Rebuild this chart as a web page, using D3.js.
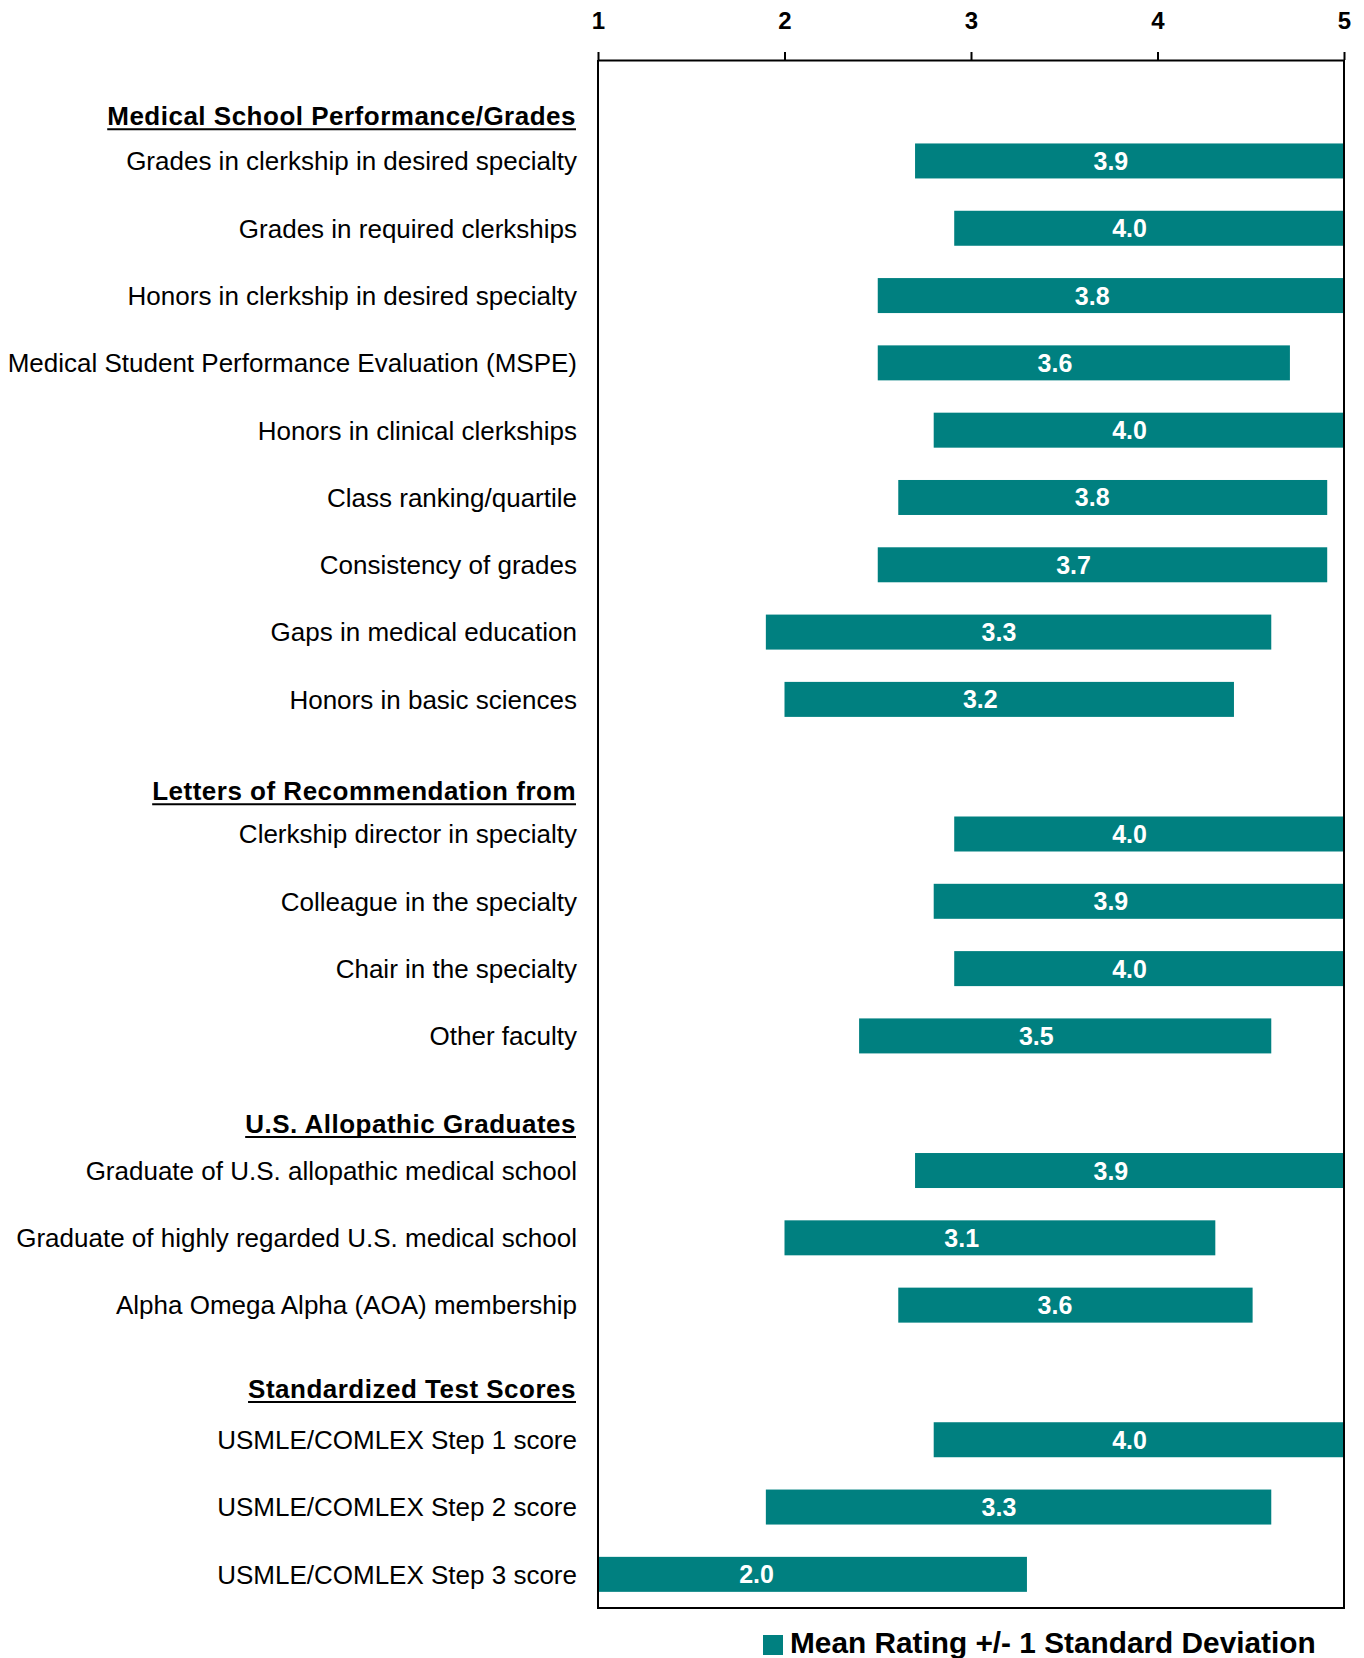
<!DOCTYPE html>
<html>
<head>
<meta charset="utf-8">
<script src="https://cdn.jsdelivr.net/npm/d3@7"></script>
<style>
  body { margin: 0; background: #fff; }
  text { font-family: "Liberation Sans", Arial, sans-serif; }
</style>
</head>
<body>
<script>
const width = 1364;
const height = 1658;

// section headers and the items under each one
const groups = [
    "Medical School Performance/Grades",
    "Letters of Recommendation from",
    "U.S. Allopathic Graduates",
    "Standardized Test Scores"
];
const items = [
    ["Grades in clerkship in desired specialty", "Grades in required clerkships", "Honors in clerkship in desired specialty",
     "Medical Student Performance Evaluation (MSPE)", "Honors in clinical clerkships", "Class ranking/quartile",
     "Consistency of grades", "Gaps in medical education", "Honors in basic sciences"],
    ["Clerkship director in specialty", "Colleague in the specialty", "Chair in the specialty", "Other faculty"],
    ["Graduate of U.S. allopathic medical school", "Graduate of highly regarded U.S. medical school", "Alpha Omega Alpha (AOA) membership"],
    ["USMLE/COMLEX Step 1 score", "USMLE/COMLEX Step 2 score", "USMLE/COMLEX Step 3 score"]
];
// mean rating (label) and the mean -/+ 1 SD ends, in item order
const means = [3.9, 4.0, 3.8, 3.6, 4.0, 3.8, 3.7, 3.3, 3.2,  4.0, 3.9, 4.0, 3.5,  3.9, 3.1, 3.6,  4.0, 3.3, 2.0];
const lows  = [2.70, 2.91, 2.50, 2.50, 2.80, 2.61, 2.50, 1.90, 2.00,  2.91, 2.80, 2.91, 2.40,  2.70, 2.00, 2.61,  2.80, 1.90, 0.70];
const highs = [5.10, 5.10, 5.10, 4.71, 5.20, 4.91, 4.91, 4.61, 4.41,  5.10, 5.00, 5.10, 4.61,  5.10, 4.31, 4.51,  5.20, 4.61, 3.30];
const ticks = [1, 2, 3, 4, 5];

const teal = "#008080";

// one row per item, with an empty row in front of every section
let rows = [];
let data = [];
let k = 0;
groups.forEach((g, gi) => {
    rows.push("_gap" + gi);
    items[gi].forEach(name => {
        rows.push(name);
        data.push({ name: name, group: gi, mean: means[k], lo: lows[k], hi: highs[k] });
        k++;
    });
});

const plot = { left: 598, right: 1344, top: 60, bottom: 1608 };

const x = d3.scaleLinear().domain([1, 5]).range([plot.left, plot.right]);
const y = d3.scaleBand().domain(rows).range([plot.top, plot.bottom])
    .paddingInner(0.48).paddingOuter(0.24);

const svg = d3.select("body").append("svg")
    .attr("width", width)
    .attr("height", height);

// bars, clipped to the axis range
svg.append("g")
    .selectAll("rect")
    .data(data)
    .enter().append("rect")
    .attr("x", d => x(Math.max(d.lo, 1)))
    .attr("y", d => y(d.name))
    .attr("width", d => x(Math.min(d.hi, 5)) - x(Math.max(d.lo, 1)))
    .attr("height", y.bandwidth())
    .style("fill", teal);

// mean labels
svg.append("g")
    .selectAll("text")
    .data(data)
    .enter().append("text")
    .attr("x", d => x(d.mean - 0.15))
    .attr("y", d => y(d.name) + y.bandwidth() / 2)
    .attr("dy", "0.36em")
    .attr("text-anchor", "middle")
    .style("font-size", "25px")
    .style("font-weight", "bold")
    .style("fill", "#fff")
    .text(d => d.mean.toFixed(1));

// item labels
svg.append("g")
    .selectAll("text")
    .data(data)
    .enter().append("text")
    .attr("x", plot.left - 21)
    .attr("y", d => y(d.name) + y.bandwidth() / 2)
    .attr("dy", "0.36em")
    .attr("text-anchor", "end")
    .style("font-size", "26px")
    .style("fill", "#000")
    .text(d => d.name);

// section headers, underlined
const headShift = [-45, -43, -47, -51];
const heads = svg.append("g")
    .selectAll("g")
    .data(groups)
    .enter().append("g");
heads.append("text")
    .attr("x", plot.left - 22)
    .attr("y", (g, gi) => y(items[gi][0]) + y.bandwidth() / 2 + headShift[gi])
    .attr("dy", "0.36em")
    .attr("text-anchor", "end")
    .style("font-size", "26px")
    .style("letter-spacing", "0.5px")
    .style("font-weight", "bold")
    .style("fill", "#000")
    .text(g => g);
heads.each(function() {
    const t = d3.select(this).select("text");
    const b = t.node().getBBox();
    d3.select(this).append("line")
        .attr("x1", b.x).attr("x2", b.x + b.width)
        .attr("y1", b.y + b.height - 2).attr("y2", b.y + b.height - 2)
        .style("stroke", "#000")
        .style("stroke-width", 2);
});

// frame
svg.append("path")
    .attr("d", `M${plot.left},${plot.top}V${plot.bottom}H${plot.right}V${plot.top}`)
    .style("fill", "none")
    .style("stroke", "#000")
    .style("stroke-width", 2);

// top axis
const axis = svg.append("g")
    .attr("transform", `translate(0,${plot.top})`)
    .call(d3.axisTop(x).tickValues(ticks).tickFormat(d3.format("d"))
        .tickSize(8).tickSizeOuter(0).tickPadding(23));
axis.select(".domain").style("stroke-width", 2);
axis.selectAll(".tick line").style("stroke-width", 2);
axis.selectAll(".tick text")
    .style("font-family", "'Liberation Sans', Arial, sans-serif")
    .style("font-size", "24px")
    .style("font-weight", "bold")
    .style("fill", "#000");

// legend
const legend = svg.append("g").attr("transform", "translate(763,1635)");
legend.append("rect")
    .attr("width", 20).attr("height", 20)
    .style("fill", teal);
legend.append("text")
    .attr("x", 27).attr("y", 18)
    .style("font-size", "29.8px")
    .style("font-weight", "bold")
    .style("fill", "#000")
    .text("Mean Rating +/- 1 Standard Deviation");
</script>
</body>
</html>
